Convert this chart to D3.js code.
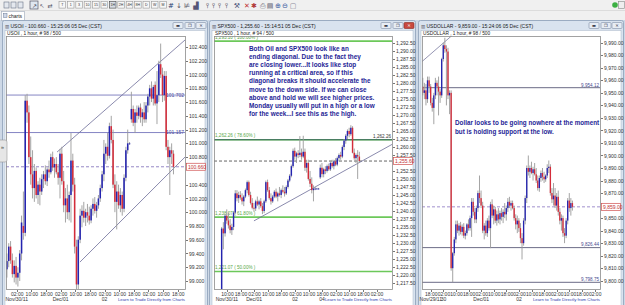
<!DOCTYPE html>
<html>
<head>
<meta charset="utf-8">
<script src="https://cdnjs.cloudflare.com/ajax/libs/d3/7.8.5/d3.min.js"></script>
<style>
  body { margin: 0; background: #f0f0f0; overflow: hidden; }
  svg { display: block; font-family: "Liberation Sans", Arial, sans-serif; }
  .ax text { font-size: 5px; fill: #333; font-family: "Liberation Sans", Arial, sans-serif; }
  .ax path, .ax line { stroke: #777; shape-rendering: crispEdges; }
</style>
</head>
<body>
<svg id="chart" width="625" height="305"></svg>
<script>
// ---------- data ----------
// USOil hourly bars [open, high, low, close]
const oilBars = [
  [99.17,99.40,99.05,99.29],[99.29,99.55,99.20,99.50],[99.50,99.58,99.25,99.30],[99.30,99.40,99.05,99.10],
  [99.10,99.30,98.98,99.22],[99.22,99.35,98.95,99.05],[99.05,99.20,98.92,99.12],[99.12,99.45,99.00,99.40],
  [99.40,99.95,99.30,99.85],[99.80,100.30,99.60,99.70],[99.70,101.70,99.65,101.62],[101.62,101.72,101.30,101.45],
  [101.45,101.55,100.70,100.80],[100.80,101.10,100.40,100.55],[100.55,100.90,100.20,100.35],[100.35,100.70,100.15,100.60],
  [100.60,100.65,100.20,100.25],[100.25,100.45,100.12,100.40],[100.40,100.50,100.10,100.30],[100.30,100.55,100.25,100.48],
  [100.48,100.60,100.35,100.55],[100.55,100.68,100.40,100.45],[100.45,100.65,100.38,100.62],[100.62,100.75,100.50,100.58],
  [100.58,100.85,100.55,100.80],[100.80,100.88,100.60,100.65],[100.65,100.78,100.50,100.70],[100.70,100.80,100.55,100.58],
  [100.58,100.70,100.40,100.50],[100.50,100.92,100.20,100.85],[100.85,100.95,100.40,100.45],[100.45,100.60,100.00,100.10],
  [100.10,100.35,99.85,100.20],[100.20,100.40,99.90,100.00],[100.00,100.30,99.88,100.25],[100.25,101.15,99.85,100.75],
  [100.75,100.85,100.30,100.40],[100.40,100.50,99.40,99.50],[99.50,99.60,98.85,98.95],[98.95,99.65,98.88,99.60],
  [99.60,100.05,99.55,99.95],[99.95,100.10,99.78,100.02],[100.02,100.15,99.85,99.92],[99.92,100.05,99.80,100.00],
  [100.00,100.12,99.85,99.95],[99.95,100.08,99.82,99.88],[99.88,100.10,99.84,100.05],[100.05,100.20,99.95,100.12],
  [100.12,100.22,99.98,100.02],[100.02,100.15,99.92,100.10],[100.10,100.25,100.05,100.20],[100.20,100.40,100.15,100.35],
  [100.35,100.60,100.30,100.55],[100.55,101.05,100.45,100.85],[100.85,101.00,100.70,100.95],[100.95,101.15,100.75,100.82],
  [100.82,101.30,100.78,101.25],[101.25,101.40,101.00,101.05],[101.05,101.20,100.35,100.40],[100.40,100.55,100.00,100.15],
  [100.15,100.45,99.75,100.30],[100.30,100.40,100.05,100.10],[100.10,100.35,100.00,100.25],[100.25,100.30,99.95,100.05],
  [100.05,100.55,100.00,100.50],[100.50,100.95,100.45,100.90],[100.90,101.20,100.85,101.00],[101.00,101.02,100.98,101.00],
  [101.35,101.75,101.30,101.50],[101.50,101.55,101.25,101.30],[101.30,101.50,101.15,101.45],[101.45,101.55,101.30,101.40],
  [101.40,101.55,101.35,101.52],[101.52,101.58,101.30,101.38],[101.38,101.50,101.25,101.45],[101.45,101.60,101.30,101.35],
  [101.35,101.60,101.30,101.55],[101.55,101.72,101.45,101.68],[101.68,101.85,101.55,101.80],[101.80,101.90,101.60,101.65],
  [101.65,101.85,101.55,101.82],[101.85,101.90,101.55,101.58],[101.58,102.05,101.28,101.70],[101.70,102.20,101.60,102.15],
  [102.15,102.45,101.95,102.00],[102.00,102.10,101.60,101.70],[101.70,102.05,101.62,101.98],[101.98,102.05,100.90,100.95],
  [100.95,101.05,100.70,100.80],[100.80,100.95,100.25,100.90],[100.90,101.00,100.70,100.85],[100.85,100.90,100.55,100.66]
];
// SPX500 hourly bars [open, high, low, close]
const spxBars = [
  [1215.0,1235.0,1213.0,1234.5],[1234.5,1236.5,1228.0,1233.0],[1233.0,1239.0,1232.0,1238.5],[1238.5,1240.5,1236.0,1237.0],
  [1237.0,1239.5,1234.5,1235.5],[1235.5,1237.5,1233.0,1234.0],[1234.0,1236.0,1232.5,1235.0],[1235.0,1240.0,1234.0,1239.5],
  [1239.5,1246.5,1239.0,1245.5],[1245.5,1246.5,1243.0,1244.0],[1244.0,1246.0,1242.5,1245.0],[1245.0,1246.2,1243.5,1244.2],
  [1244.2,1245.5,1242.0,1243.0],[1243.0,1245.0,1241.5,1244.5],[1244.5,1247.0,1244.0,1246.5],[1246.5,1249.5,1245.5,1249.0],
  [1249.0,1249.5,1244.5,1245.0],[1245.0,1246.0,1242.0,1242.5],[1242.5,1244.0,1240.5,1241.0],[1241.0,1242.5,1239.8,1240.8],
  [1240.8,1243.5,1240.0,1243.0],[1243.0,1244.5,1241.5,1242.0],[1242.0,1243.5,1240.5,1243.0],[1243.0,1244.0,1241.0,1241.5],
  [1241.5,1242.5,1239.0,1240.0],[1240.0,1243.5,1239.3,1243.0],[1243.0,1249.5,1242.5,1249.0],[1249.0,1249.8,1246.0,1246.5],
  [1246.5,1247.5,1243.5,1244.0],[1244.0,1245.5,1242.0,1243.0],[1243.0,1245.0,1242.5,1244.5],[1244.5,1246.5,1244.0,1246.0],
  [1246.0,1247.0,1244.0,1244.5],[1244.5,1246.0,1243.0,1245.5],[1245.5,1247.5,1244.5,1245.0],[1245.0,1247.0,1244.0,1246.5],
  [1246.5,1248.0,1245.5,1246.0],[1246.0,1247.5,1244.5,1245.5],[1245.5,1248.0,1245.0,1247.5],[1247.5,1250.0,1247.0,1249.5],
  [1249.5,1251.5,1249.0,1251.0],[1251.0,1254.5,1250.5,1254.0],[1254.0,1259.5,1253.5,1258.8],[1258.8,1259.8,1256.0,1257.0],
  [1257.0,1258.5,1255.0,1258.0],[1258.0,1259.0,1256.5,1257.5],[1257.5,1263.4,1256.8,1258.2],[1258.2,1259.5,1256.0,1257.0],
  [1257.0,1263.5,1256.5,1258.5],[1258.5,1259.5,1252.5,1253.5],[1253.5,1256.0,1252.0,1255.0],[1255.0,1256.0,1249.5,1250.0],
  [1250.0,1252.5,1247.5,1248.5],[1248.5,1250.5,1245.5,1246.5],[1246.5,1248.0,1243.0,1247.0],[1247.0,1247.5,1246.5,1247.0],
  [1247.0,1247.2,1246.8,1247.0],[1247.0,1247.2,1246.8,1247.0],[1250.5,1254.5,1250.0,1253.5],[1253.5,1255.0,1250.5,1251.5],
  [1251.5,1253.5,1250.5,1253.0],[1253.0,1254.0,1251.5,1252.5],[1252.5,1254.5,1252.0,1254.0],[1254.0,1254.8,1252.5,1253.0],
  [1253.0,1255.5,1252.5,1255.0],[1255.0,1256.0,1253.5,1254.0],[1254.0,1256.0,1253.0,1255.5],[1255.5,1256.5,1254.0,1254.5],
  [1254.5,1257.0,1254.0,1256.5],[1256.5,1258.0,1255.5,1257.5],[1257.5,1258.5,1256.0,1257.0],[1257.0,1260.5,1256.5,1260.0],
  [1260.0,1262.5,1259.0,1262.0],[1262.0,1264.0,1261.0,1263.5],[1263.5,1265.5,1262.5,1265.0],[1265.0,1266.0,1263.0,1264.0],
  [1264.0,1266.8,1263.5,1266.0],[1266.0,1266.5,1258.0,1258.2],[1258.2,1259.5,1256.0,1256.5],[1256.5,1258.0,1255.0,1257.5],
  [1257.5,1259.0,1250.0,1257.0],[1257.0,1258.5,1255.0,1255.6]
];
// USDOLLAR hourly bars [open, high, low, close]
const usdBars = [
  [9955,9962,9948,9950],[9950,9958,9945,9952],[9952,9957,9940,9945],[9945,9963,9942,9960],
  [9960,9963,9950,9955],[9955,9957,9940,9942],[9942,9946,9935,9938],[9938,9950,9925,9948],
  [9948,9962,9945,9958],[9958,9960,9948,9955],[9955,9963,9932,9951],[9951,9953,9942,9948],
  [9948,9978,9946,9977],[9977,9990,9975,9988],[9988,9994,9982,9985],[9985,9988,9940,9983],
  [9983,9986,9945,9948],[9948,9952,9933,9950],[9950,9952,9808,9810],[9810,9823,9798.75,9822],
  [9822,9835,9820,9833],[9833,9848,9830,9845],[9845,9848,9838,9840],[9840,9846,9836,9844],
  [9844,9847,9837,9839],[9839,9845,9836,9843],[9843,9846,9834,9836],[9836,9840,9833,9838],
  [9838,9846,9836,9845],[9845,9849,9840,9842],[9842,9852,9840,9850],[9850,9866,9835,9863],
  [9863,9866,9852,9855],[9855,9858,9846,9849],[9849,9860,9846,9858],[9858,9872,9855,9870],
  [9870,9884,9862,9866],[9866,9872,9858,9860],[9860,9863,9838,9840],[9840,9846,9833,9844],
  [9844,9848,9836,9838],[9838,9850,9835,9848],[9848,9852,9840,9842],[9842,9863,9826,9861],
  [9861,9865,9850,9852],[9852,9860,9845,9857],[9857,9859,9846,9848],[9848,9856,9844,9853],
  [9853,9858,9846,9849],[9849,9856,9845,9854],[9854,9858,9848,9851],[9851,9857,9846,9855],
  [9855,9862,9850,9853],[9853,9860,9848,9858],[9858,9866,9855,9863],[9863,9867,9858,9860],
  [9860,9864,9856,9862],[9862,9864,9857,9858],[9858,9860,9848,9850],[9850,9853,9841,9845],
  [9845,9852,9838,9848],[9848,9850,9839,9842],[9842,9846,9830,9834],[9834,9838,9817,9830],
  [9830,9850,9828,9848],[9848,9868,9845,9866],[9866,9892,9862,9890],[9890,9900,9884,9887],
  [9887,9892,9882,9890],[9890,9895,9885,9886],[9886,9891,9880,9889],[9889,9894,9884,9885],
  [9885,9890,9878,9880],[9880,9884,9872,9874],[9874,9884,9871,9882],[9882,9888,9879,9886],
  [9886,9890,9880,9883],[9883,9887,9878,9881],[9881,9885,9879,9884],[9884,9893,9882,9890],
  [9890,9896,9886,9891],[9891,9893,9868,9870],[9870,9874,9862,9865],[9865,9878,9860,9868],
  [9868,9874,9858,9860],[9860,9870,9856,9867],[9867,9872,9852,9855],[9855,9858,9845,9848],
  [9848,9853,9840,9850],[9850,9852,9835,9838],[9838,9842,9830,9836],[9836,9850,9834,9848],
  [9848,9866,9845,9864],[9864,9870,9855,9858],[9858,9866,9852,9862],[9862,9864,9856,9859]
];

const oilTicks = [99.0,99.2,99.4,99.6,99.8,100.0,100.2,100.4,100.6,100.8,101.0,101.2,101.4,101.6,101.8,102.0,102.2,102.4];
const spxTicks = [1217.5,1220,1222.5,1225,1227.5,1230,1232.5,1235,1237.5,1240,1242.5,1245,1247.5,1250,1252.5,1255,
                  1257.5,1260,1262.5,1265,1267.5,1270,1272.5,1275,1277.5,1280,1282.5,1285,1287.5,1290,1292.5];
const usdTicks = [9800,9810,9820,9830,9840,9850,9860,9870,9880,9890,9900,9910,9920,9930,9940,9950,9960,9970,9980,9990];

const oilTimes = ['02:00','10:00','18:00','02:00','10:00','18:00','02:00','10:00','18:00','02:00','10:00','18:00'];
const spxTimes = ['10:00','18:00','02:00','10:00','18:00','02:00','10:00','18:00','02:00','10:00','18:00','02:00'];
const usdTimes = ['18:00','02:00','10:00','18:00','02:00','10:00','18:00','02:00','10:00','18:00','02:00','10:00','18:00','02:00'];
// [time-tick index, date label]
const oilDates = [[0,'Nov/30/11'],[3,'Dec/01'],[6,'02']];
const spxDates = [[0,'Nov/30/11'],[2,'Dec/01'],[5,'02'],[7,'04']];
const usdDates = [[0,'Nov/29/11'],[1,'30'],[4,'Dec/01'],[7,'02']];

const oilLevels = [101.702, 101.157];
const spxLevel = 1262.26;
const spxFib = [[1293.10,'100.00%'],[1262.26,'78.60%'],[1238.07,'61.80%'],[1221.07,'50.00%']];
const usdLevels = [9954.12, 9826.44, 9798.75];
// trend lines as [bar slot, price] pairs
const oilChannel = [[[27.9,100.874],[97.8,102.502]], [[40.4,99.275],[97.8,100.801]]];
const spxTrend = [[[23.5,1236.9],[104.7,1260.8]]];
const usdTrend = [[[0,9975],[21.5,9998.5]]];

const spxNote = ['Both Oil and SPX500 look like an','ending diagonal. Due to the fact they',
  'are closing lower...It looks like stop','running at a critical area, so if this',
  'diagonal breaks it should accelerate the','move to the down side.  If we can close',
  'above and hold we will see higher prices.','Monday usually will put in a high or a low',
  'for the week...I see this as the high.'];
const usdNote = ['Dollar looks to be going nowhere at the moment','but is holding support at the low.'];

// ---------- layout ----------
const W = 625, H = 305;
const svg = d3.select('#chart');
const fmt3 = d3.format('.3f'), fmt2 = d3.format(',.2f');

const panels = [
  {id:'oil', fx:[2,208], pl:6, pr:185, slots:97.8, firstTick:5.85, start:0,
   bars:oilBars, dom:[98.884,102.56], ticks:oilTicks, fmt:fmt3, times:oilTimes, dates:oilDates,
   title:'USOil - 100.660 - 15:25:06 05 Dec (CST)', sub:'USOil , 1 hour, # 98 / 500',
   last:100.660, dash:'#8a7cc0', trend:oilChannel, trendColor:'#6c6c98'},
  {id:'spx', fx:[209,416], pl:214, pr:392, slots:104.7, firstTick:7.6, start:4,
   bars:spxBars, dom:[1215.6,1294.69], ticks:spxTicks, fmt:fmt2, times:spxTimes, dates:spxDates,
   title:'SPX500 - 1,255.60 - 15:14:51 05 Dec (CST)', sub:'SPX500 , 1 hour, # 94 / 500',
   last:1255.60, dash:'#555', trend:spxTrend, trendColor:'#6c6c98'},
  {id:'usd', fx:[418,624], pl:422, pr:600, slots:113, firstTick:5.6, start:0,
   bars:usdBars, dom:[9793.4,9995.4], ticks:usdTicks, fmt:fmt2, times:usdTimes, dates:usdDates,
   title:'USDOLLAR - 9,859.00 - 15:24:06 05 Dec (CST)', sub:'USDOLLAR , 1 hour, # 98 / 500',
   last:9859.00, dash:'#9585c8', trend:usdTrend, trendColor:'#7a7aa0'}
];
const PT = 36, PB = 289;

// ---------- app chrome ----------
svg.append('rect').attr('width', W).attr('height', H).attr('fill', '#cdd8e6');
svg.append('rect').attr('width', W).attr('height', 20).attr('fill', '#f0f0f0');
svg.append('line').attr('x1', 0).attr('x2', W).attr('y1', 10.5).attr('y2', 10.5).attr('stroke', '#dcdcdc');

// toolbar icons
const tb = svg.append('g');
[4, 11, 18].forEach(x => {
  tb.append('rect').attr('x', x).attr('y', 2).attr('width', 5).attr('height', 6)
    .attr('fill', '#e4e8ee').attr('stroke', '#6a7486').attr('stroke-width', 0.6);
});
tb.append('rect').attr('x', 30).attr('y', 1).attr('width', 8).attr('height', 8)
  .attr('fill', '#dfe6ef').attr('stroke', '#556').attr('stroke-width', 0.7);
tb.append('text').attr('x', 34).attr('y', 7.5).attr('text-anchor', 'middle').attr('font-size', 6)
  .attr('fill', '#334').text('↗');
[['↖', 42], ['⇄', 50]].forEach(([t, x]) => {
  tb.append('text').attr('x', x).attr('y', 7.5).attr('text-anchor', 'middle').attr('font-size', 6)
    .attr('fill', '#556').attr('font-family', 'DejaVu Sans').text(t);
});
const periods = ['T','1','3','10','15','30','1H','2H','4H','8H','D','W','M'];
periods.forEach((p, i) => {
  const x = 59 + i * 8.4;
  tb.append('rect').attr('x', x).attr('y', 1.5).attr('width', 6.6).attr('height', 6.6)
    .attr('fill', p === '1H' ? '#d8dde4' : '#f7f7f7')
    .attr('stroke', p === '1H' ? '#444' : '#999').attr('stroke-width', 0.6);
  tb.append('text').attr('x', x + 3.3).attr('y', 6.4).attr('text-anchor', 'middle')
    .attr('font-size', 3.6).attr('fill', '#333').text(p);
});
[['#',171,'#2c3e70'],['↓',179,'#556'],['⊭',187,'#556'],['▟',196,'#557'],
 ['⫯',207,'#334'],['⫯',213,'#334'],['⫯',219,'#334'],['⫯',226,'#334'],['⚒',237,'#535a80'],
 ['✕',247,'#c23030'],['✱',254,'#b03a3a'],['⎙',263,'#667'],['▤',270,'#667'],
 ['⊕',278,'#3a5aa0'],['⊖',285,'#3a5aa0'],['▢',293,'#889']].forEach(([t, x, c]) => {
  tb.append('text').attr('x', x).attr('y', 7.6).attr('text-anchor', 'middle').attr('font-size', 7)
    .attr('font-family', 'DejaVu Sans').attr('fill', c).text(t);
});
tb.append('circle').attr('cx', 615).attr('cy', 5).attr('r', 2.8).attr('fill', '#3cb043');
tb.append('rect').attr('x', 618.5).attr('y', 1.5).attr('width', 6).attr('height', 7)
  .attr('fill', '#eee').attr('stroke', '#888').attr('stroke-width', 0.6);

// tab
svg.append('rect').attr('x', 1.5).attr('y', 11.5).attr('width', 23).attr('height', 9)
  .attr('fill', '#fff').attr('stroke', '#a9b3c0').attr('stroke-width', 0.7);
svg.append('rect').attr('x', 3.5).attr('y', 13.5).attr('width', 3.5).attr('height', 4)
  .attr('fill', '#cfd8e8').attr('stroke', '#6a7a95').attr('stroke-width', 0.5);
svg.append('text').attr('x', 8.5).attr('y', 17.6).attr('font-size', 5).attr('fill', '#222').text('charts');

// ---------- panels ----------
panels.forEach(p => {
  const [fx0, fx1] = p.fx;
  const g = svg.append('g').attr('class', p.id);

  // window frame + title bar
  g.append('rect').attr('x', fx0 + 0.5).attr('y', 20.5).attr('width', fx1 - fx0 - 1).attr('height', 290)
    .attr('rx', 2).attr('fill', '#d9e3ef').attr('stroke', '#8d9fb8').attr('stroke-width', 0.8);
  g.append('rect').attr('x', fx0 + 3).attr('y', 30.5).attr('width', fx1 - fx0 - 6).attr('height', 280)
    .attr('fill', '#fff').attr('stroke', '#a8b6c8').attr('stroke-width', 0.5);
  g.append('text').attr('x', fx0 + 3).attr('y', 27.6).attr('font-size', 4.5).attr('fill', '#556')
    .attr('font-family', 'DejaVu Sans').text('▥');
  g.append('text').attr('x', fx0 + 8.5).attr('y', 27.6).attr('font-size', 5).attr('fill', '#1a1a1a').text(p.title);
  [-30, -18, -7].forEach((dx, k) => {
    const cx = fx1 + dx;
    const red = (p.id === 'spx' && k === 2);
    g.append('rect').attr('x', cx - 5).attr('y', 22.5).attr('width', 10).attr('height', 6).attr('rx', 1)
      .attr('fill', red ? '#c8493f' : '#e6ecf4').attr('stroke', red ? '#8a2a22' : '#7f8fa6').attr('stroke-width', 0.6);
    g.append('text').attr('x', cx).attr('y', 27.3).attr('text-anchor', 'middle').attr('font-size', 4.2)
      .attr('fill', red ? '#fff' : '#334').attr('font-family', 'DejaVu Sans')
      .text(['▬', '❐', '✕'][k]);
  });
  g.append('text').attr('x', p.pl + 1).attr('y', 34.6).attr('font-size', 4.8).attr('fill', '#222').text(p.sub);

  // scales
  const x = d3.scaleLinear().domain([0, p.slots]).range([p.pl, p.pr]);
  const y = d3.scaleLinear().domain(p.dom).range([PB, PT]);
  const sw = x(1) - x(0);

  g.append('clipPath').attr('id', 'clip-' + p.id).append('rect')
    .attr('x', p.pl).attr('y', PT).attr('width', p.pr - p.pl).attr('height', PB - PT);
  const plot = g.append('g').attr('clip-path', 'url(#clip-' + p.id + ')');

  // level lines
  if (p.id === 'oil') {
    oilLevels.forEach(v => {
      plot.append('line').attr('x1', p.pl).attr('x2', p.pr).attr('y1', y(v)).attr('y2', y(v))
        .attr('stroke', '#8585c4').attr('stroke-width', 1);
      plot.append('text').attr('x', p.pr - 1).attr('y', y(v) + 1.6).attr('text-anchor', 'end')
        .attr('font-size', 5).attr('fill', '#4a4aa0').text(fmt3(v));
    });
  }
  if (p.id === 'spx') {
    spxFib.forEach(([v, pct]) => {
      plot.append('line').attr('x1', p.pl).attr('x2', p.pr).attr('y1', y(v)).attr('y2', y(v))
        .attr('stroke', '#6cc85a').attr('stroke-width', 1.6);
      plot.append('text').attr('x', p.pl + 1).attr('y', y(v) - 2.5)
        .attr('font-size', 4.6).attr('fill', '#58a848').text(fmt2(v) + ' ( ' + pct + ' )');
    });
    plot.append('line').attr('x1', p.pl).attr('x2', p.pr).attr('y1', y(spxLevel)).attr('y2', y(spxLevel))
      .attr('stroke', '#3e6464').attr('stroke-width', 1.2);
    plot.append('text').attr('x', p.pr - 1).attr('y', y(spxLevel) - 1.5).attr('text-anchor', 'end')
      .attr('font-size', 4.6).attr('fill', '#333').text(fmt2(spxLevel));
  }
  if (p.id === 'usd') {
    usdLevels.forEach(v => {
      plot.append('line').attr('x1', p.pl).attr('x2', p.pr).attr('y1', y(v)).attr('y2', y(v))
        .attr('stroke', '#5a5a78').attr('stroke-width', 0.9);
      plot.append('text').attr('x', p.pr - 1).attr('y', y(v) - 1.2).attr('text-anchor', 'end')
        .attr('font-size', 4.6).attr('fill', '#4a4a90').text(fmt2(v));
    });
  }

  // current price dashed line
  plot.append('line').attr('x1', p.pl).attr('x2', p.pr).attr('y1', y(p.last)).attr('y2', y(p.last))
    .attr('stroke', p.dash).attr('stroke-width', 0.9).attr('stroke-dasharray', '3,2');

  // trend lines
  p.trend.forEach(seg => {
    plot.append('line')
      .attr('x1', x(seg[0][0])).attr('y1', y(seg[0][1]))
      .attr('x2', x(seg[1][0])).attr('y2', y(seg[1][1]))
      .attr('stroke', p.trendColor).attr('stroke-width', 0.8);
  });

  // candles
  const c = plot.append('g').selectAll('g').data(p.bars).join('g');
  c.append('line')
    .attr('x1', (d, i) => x(p.start + i + 0.5)).attr('x2', (d, i) => x(p.start + i + 0.5))
    .attr('y1', d => y(d[1])).attr('y2', d => y(d[2]))
    .attr('stroke', '#9a9a9a').attr('stroke-width', 0.9);
  c.append('rect')
    .attr('x', (d, i) => x(p.start + i + 0.5) - sw * 0.42)
    .attr('width', sw * 0.84)
    .attr('y', d => y(Math.max(d[0], d[3])))
    .attr('height', d => Math.max(0.9, Math.abs(y(d[0]) - y(d[3]))))
    .attr('fill', d => d[3] >= d[0] ? '#2424b0' : '#d42c3a');

  // plot border
  g.append('rect').attr('x', p.pl + 0.5).attr('y', PT + 0.5).attr('width', p.pr - p.pl).attr('height', PB - PT)
    .attr('fill', 'none').attr('stroke', '#8c8c8c').attr('stroke-width', 0.8);

  // notes
  if (p.id === 'spx') {
    spxNote.forEach((t, i) => {
      g.append('text').attr('x', 249).attr('y', 50.5 + i * 8.2).attr('font-size', 6.4)
        .attr('font-weight', 'bold').attr('fill', '#1e1e96').text(t);
    });
  }
  if (p.id === 'usd') {
    usdNote.forEach((t, i) => {
      g.append('text').attr('x', 455).attr('y', 124.5 + i * 9).attr('font-size', 6.3)
        .attr('font-weight', 'bold').attr('fill', '#1e1e96').text(t);
    });
  }

  // right axis (the tick under the current price box is covered in the original)
  const shownTicks = p.ticks.filter(t => Math.abs(y(t) - y(p.last)) > 4.5);
  g.append('g').attr('class', 'ax').attr('transform', `translate(${p.pr + 0.5},0)`)
    .call(d3.axisRight(y).tickValues(shownTicks).tickFormat(p.fmt).tickSize(2).tickPadding(1.5))
    .call(a => a.select('.domain').remove());

  // current price box on axis
  g.append('rect').attr('x', p.pr + 1.5).attr('y', y(p.last) - 3.5).attr('width', 19).attr('height', 7)
    .attr('fill', '#fff').attr('stroke', '#d05050').attr('stroke-width', 0.7);
  g.append('text').attr('x', p.pr + 3).attr('y', y(p.last) + 1.8).attr('font-size', 5)
    .attr('fill', '#c03030').text(p.fmt(p.last));

  // bottom axis: times + dates
  const tickSlots = p.times.map((t, i) => p.firstTick + 8 * i);
  g.append('g').attr('class', 'ax').attr('transform', `translate(0,${PB + 0.5})`)
    .call(d3.axisBottom(x).tickValues(tickSlots).tickFormat((d, i) => p.times[i]).tickSize(2).tickPadding(1))
    .call(a => a.select('.domain').remove());
  p.dates.forEach(([k, label]) => {
    g.append('text').attr('x', x(tickSlots[k])).attr('y', 301).attr('text-anchor', 'middle')
      .attr('font-size', 5).attr('fill', '#333').text(label);
  });
  g.append('text').attr('x', p.pr).attr('y', 301).attr('text-anchor', 'end')
    .attr('font-size', 4.3).attr('fill', '#3040b0').text('Learn to Trade Directly from Charts');
});

// side handle of the first window
svg.append('rect').attr('x', -2).attr('y', 140).attr('width', 9).attr('height', 22).attr('rx', 2)
  .attr('fill', '#e6e6e6').attr('stroke', '#999').attr('stroke-width', 0.6);
svg.append('text').attr('x', 2.5).attr('y', 149).attr('text-anchor', 'middle').attr('font-size', 6)
  .attr('fill', '#444').text('»');
</script>
</body>
</html>
